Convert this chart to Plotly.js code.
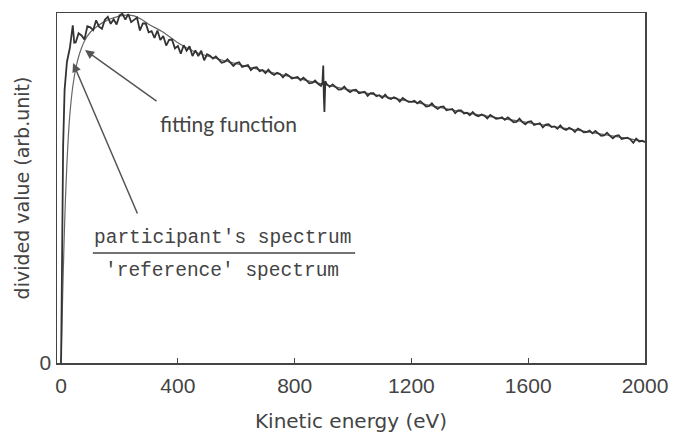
<!DOCTYPE html>
<html>
<head>
<meta charset="utf-8">
<script src="https://cdn.plot.ly/plotly-3.0.1.min.js"></script>
<style>html,body{margin:0;padding:0;background:#fff;}#chart{width:681px;height:433px;}</style>
</head>
<body>
<div id="chart"></div>
<script>
// Kinetic energy (eV) of the measured divided spectrum
const specEnergy = [0,4,7,12,20,30,40,45,50,60,70,80,90,100,110,120,130,140,150,160,170,180,190,200,
210,220,230,240,250,260,270,280,290,300,310,320,330,340,350,360,370,380,390,400,
410,420,430,440,450,460,470,480,490,500,510,520,530,540,550,560,570,580,590,600,
610,620,630,640,650,660,670,680,690,700,710,720,730,740,750,760,770,780,790,800,
810,820,830,840,850,860,870,880,890,895,898,900,902,905,910,920,930,940,950,960,970,980,990,1000,
1010,1020,1030,1040,1050,1060,1070,1080,1090,1100,1110,1120,1130,1140,1150,1160,1170,1180,1190,1200,
1210,1220,1230,1240,1250,1260,1270,1280,1290,1300,1310,1320,1330,1340,1350,1360,1370,1380,1390,1400,
1410,1420,1430,1440,1450,1460,1470,1480,1490,1500,1510,1520,1530,1540,1550,1560,1570,1580,1590,1600,
1610,1620,1630,1640,1650,1660,1670,1680,1690,1700,1710,1720,1730,1740,1750,1760,1770,1780,1790,1800,
1810,1820,1830,1840,1850,1860,1870,1880,1890,1900,1910,1920,1930,1940,1950,1960,1970,1980,1990,2000];

// participant's spectrum / 'reference' spectrum (arb. unit)
const specValue = [0,0.35,0.62,0.78,0.86,0.90,0.965,0.915,0.916,0.942,0.936,0.924,0.962,0.959,0.951,0.979,0.961,0.955,0.981,0.989,0.969,0.982,0.967,0.993,
0.998,0.981,0.997,0.974,0.980,0.987,0.950,0.970,0.970,0.945,0.948,0.929,0.950,0.923,0.934,0.907,0.923,0.924,0.899,0.906,
0.884,0.908,0.892,0.905,0.877,0.893,0.877,0.892,0.865,0.882,0.878,0.870,0.876,0.868,0.858,0.860,0.868,0.858,0.849,0.857,
0.859,0.846,0.849,0.851,0.837,0.844,0.845,0.834,0.837,0.828,0.838,0.828,0.823,0.829,0.826,0.816,0.826,0.821,0.813,0.814,
0.817,0.808,0.815,0.808,0.799,0.800,0.807,0.798,0.792,0.800,0.850,0.760,0.717,0.805,0.797,0.789,0.796,0.789,0.781,0.782,0.790,0.780,0.774,0.780,
0.781,0.771,0.773,0.775,0.763,0.771,0.771,0.762,0.765,0.757,0.767,0.757,0.754,0.759,0.756,0.747,0.757,0.752,0.746,0.746,
0.749,0.742,0.748,0.741,0.733,0.734,0.742,0.732,0.726,0.732,0.733,0.722,0.725,0.726,0.714,0.722,0.722,0.713,0.715,0.708,
0.717,0.708,0.705,0.710,0.707,0.699,0.709,0.704,0.698,0.699,0.702,0.695,0.702,0.695,0.688,0.689,0.698,0.688,0.682,0.689,
0.691,0.680,0.683,0.685,0.673,0.681,0.682,0.674,0.676,0.669,0.679,0.669,0.666,0.672,0.668,0.660,0.670,0.666,0.659,0.660,
0.664,0.656,0.663,0.656,0.649,0.650,0.658,0.649,0.642,0.649,0.651,0.640,0.643,0.644,0.639,0.629,0.641,0.633,0.635,0.631];

// fitting function
const fitEnergy = [0,5,10,15,20,25,30,40,50,60,70,80,100,125,150,175,200,225,250,275,300,350,400,450,500,600,700,800,900,1000,1200,1400,1600,1800,2000];
const fitValue  = [0,0.18,0.34,0.47,0.57,0.65,0.71,0.79,0.84,0.875,0.90,0.92,0.945,0.963,0.976,0.985,0.991,0.994,0.992,0.982,0.968,0.945,0.915,0.892,0.877,0.855,0.834,0.815,0.796,0.778,0.747,0.713,0.687,0.661,0.633];

const xTickVals = [0,400,800,1200,1600,2000];
const xTickText = ['0','400','800','1200','1600','2000'];
const yTickVals = [0];
const yTickText = ['0'];

const traces = [
  {x: fitEnergy, y: fitValue, type: 'scatter', mode: 'lines',
   line: {color: '#666', width: 1.2, shape: 'spline', smoothing: 0.8}, hoverinfo: 'skip'},
  {x: specEnergy, y: specValue, type: 'scatter', mode: 'lines',
   line: {color: '#333', width: 1.8}, hoverinfo: 'skip'}
];

const tickFont = {family: '"Liberation Sans", Arial, sans-serif', size: 21, color: '#444'};
const titleFamily = '"DejaVu Sans", "Liberation Sans", sans-serif';
const monoFont = {family: '"Liberation Mono", "DejaVu Sans Mono", monospace', size: 19.5, color: '#444'};

const layout = {
  width: 681, height: 433,
  margin: {l: 57, r: 36, t: 13, b: 70},
  paper_bgcolor: '#fff', plot_bgcolor: '#fff',
  showlegend: false,
  xaxis: {
    range: [-14, 2000], showgrid: false, zeroline: false,
    showline: true, mirror: true, linecolor: '#444', linewidth: 1.5,
    ticks: 'inside', ticklen: 5, tickcolor: '#444', tickwidth: 1.2,
    tickvals: xTickVals, ticktext: xTickText, tickfont: tickFont, ticklabelstandoff: 3,
    title: {text: 'Kinetic energy (eV)', standoff: 18,
            font: {family: titleFamily, size: 20, color: '#444'}}
  },
  yaxis: {
    range: [0, 1.0], showgrid: false, zeroline: false,
    showline: true, mirror: true, linecolor: '#444', linewidth: 1.5,
    ticks: '', tickvals: yTickVals, ticktext: yTickText, tickfont: tickFont,
    title: {text: 'divided value (arb.unit)', standoff: 5,
            font: {family: titleFamily, size: 19, color: '#444'}}
  },
  annotations: [
    {xref: 'paper', yref: 'paper', x: 0.291, y: 0.683, xanchor: 'center', yanchor: 'middle',
     text: 'fitting function', showarrow: false,
     font: {family: 'Lato, "Open Sans", sans-serif', size: 21, color: '#444'}},
    {xref: 'x', yref: 'y', x: 82, y: 0.894, text: '', showarrow: true, ax: 73, ay: 52,
     arrowhead: 2, arrowsize: 1.2, arrowwidth: 1.5, arrowcolor: '#555'},
    {xref: 'x', yref: 'y', x: 41, y: 0.857, text: '', showarrow: true, ax: 65, ay: 152,
     arrowhead: 2, arrowsize: 1.2, arrowwidth: 1.5, arrowcolor: '#555'},
    {xref: 'paper', yref: 'paper', x: 0.282, y: 0.357, xanchor: 'center', yanchor: 'middle',
     text: "participant's spectrum", showarrow: false, font: monoFont},
    {xref: 'paper', yref: 'paper', x: 0.281, y: 0.263, xanchor: 'center', yanchor: 'middle',
     text: "'reference' spectrum", showarrow: false, font: monoFont}
  ],
  shapes: [
    {type: 'line', xref: 'paper', yref: 'paper', x0: 0.061, x1: 0.507, y0: 0.314, y1: 0.314,
     line: {color: '#444', width: 1.5}}
  ]
};

Plotly.newPlot('chart', traces, layout, {staticPlot: true, displayModeBar: false});
</script>
</body>
</html>
